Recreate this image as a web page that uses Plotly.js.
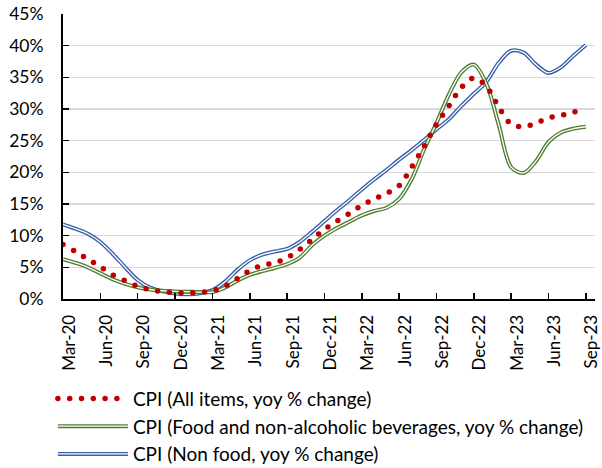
<!DOCTYPE html>
<html>
<head>
<meta charset="utf-8">
<script src="https://cdn.plot.ly/plotly-3.0.1.min.js"></script>
<style>html,body{margin:0;padding:0;background:#fff;}#chart{width:602px;height:468px;}</style>
</head>
<body>
<div id="chart"></div>
<script>
var months = ["Mar-20","Apr-20","May-20","Jun-20","Jul-20","Aug-20","Sep-20","Oct-20","Nov-20","Dec-20",
  "Jan-21","Feb-21","Mar-21","Apr-21","May-21","Jun-21","Jul-21","Aug-21","Sep-21","Oct-21","Nov-21","Dec-21",
  "Jan-22","Feb-22","Mar-22","Apr-22","May-22","Jun-22","Jul-22","Aug-22","Sep-22","Oct-22","Nov-22","Dec-22",
  "Jan-23","Feb-23","Mar-23","Apr-23","May-23","Jun-23","Jul-23","Aug-23","Sep-23"];

var cpiAll = [8.6,7.5,6.3,5.1,3.8,2.9,2.0,1.45,1.15,1.0,0.95,1.05,1.3,2.0,3.2,4.5,5.3,5.7,6.5,7.8,9.4,11.0,
  12.3,13.5,14.8,15.8,16.7,17.9,20.8,24.1,27.6,30.5,33.4,34.9,33.6,30.3,27.6,27.2,27.8,28.6,29.0,29.5,30.1];

var cpiFood = [6.3,5.7,5.0,4.05,3.1,2.4,1.85,1.5,1.3,1.2,1.15,1.1,1.1,1.8,2.9,3.8,4.4,4.9,5.5,6.5,8.5,10.0,
  11.2,12.2,13.2,13.9,14.4,15.8,18.9,23.6,27.8,32.3,35.8,37.0,34.0,27.5,20.8,19.9,21.8,24.8,26.3,26.9,27.2];

var cpiNonFood = [11.8,11.1,10.3,9.0,7.1,5.0,3.0,1.8,1.2,0.85,0.75,0.9,1.4,2.7,4.6,6.1,7.0,7.5,7.9,9.0,10.6,12.3,
  14.0,15.6,17.3,18.9,20.4,22.0,23.5,25.1,26.8,28.4,30.5,32.4,34.3,37.3,39.2,38.9,37.0,35.7,36.6,38.4,40.1];

var seriesNames = ["CPI (All items, yoy % change)",
  "CPI (Food and non-alcoholic beverages, yoy % change)",
  "CPI (Non food, yoy % change)"];

var tickLabels = months.filter(function(m, i){ return i % 3 === 0; });

var RED = "#C00000", GREEN = "#507E32", BLUE = "#3560A8";

function doubleLine(y, name, color, rank, group) {
  return [
    {x: months, y: y, name: name, type: "scatter", mode: "lines", legendgroup: group, legendrank: rank,
     line: {color: color, width: 4.0, shape: "spline", smoothing: 0.9}, hoverinfo: "skip"},
    {x: months, y: y, name: name, type: "scatter", mode: "lines", legendgroup: group, showlegend: false,
     line: {color: "#ffffff", width: 1.3, shape: "spline", smoothing: 0.9}, hoverinfo: "skip"}
  ];
}

var data = []
  .concat(doubleLine(cpiNonFood, seriesNames[2], BLUE, 3, "c"))
  .concat(doubleLine(cpiFood, seriesNames[1], GREEN, 2, "b"))
  .concat([{x: months, y: cpiAll, name: seriesNames[0], type: "scatter", mode: "lines", legendgroup: "a", legendrank: 1,
     line: {color: RED, width: 5.5, dash: "1px,11px", shape: "spline", smoothing: 0.9}, hoverinfo: "skip"}]);

var FONT = "Lato, 'Liberation Sans', sans-serif";

var layout = {
  width: 602, height: 468,
  margin: {l: 63, r: 7, t: 14, b: 169, autoexpand: false},
  paper_bgcolor: "#ffffff", plot_bgcolor: "#ffffff",
  font: {family: FONT, size: 19, color: "#000000"},
  showlegend: true,
  legend: {
    orientation: "v", x: -0.019, xanchor: "left", y: -0.283, yanchor: "top",
    font: {family: FONT, size: 19, color: "#000000"},
    itemwidth: 70, tracegroupgap: 0, bgcolor: "rgba(0,0,0,0)", traceorder: "normal"
  },
  xaxis: {
    type: "category", range: [0, 42.73], automargin: false,
    tickmode: "array", tickvals: tickLabels, ticktext: tickLabels,
    tickangle: -90, ticks: "inside", ticklen: 6, tickwidth: 1.5, tickcolor: "#000",
    showline: true, linecolor: "#000", linewidth: 2, showgrid: false, zeroline: false,
    ticklabelstandoff: 7, ticklabelshift: 6,
    tickfont: {family: FONT, size: 17, color: "#000"}
  },
  yaxis: {
    range: [0, 45], dtick: 5, tick0: 0, ticksuffix: "%", automargin: false,
    ticks: "inside", ticklen: 6, tickwidth: 1.5, tickcolor: "#000",
    showline: true, linecolor: "#000", linewidth: 2,
    showgrid: true, gridcolor: "#D9D9D9", gridwidth: 1.5, zeroline: false,
    ticklabelstandoff: 14,
    tickfont: {family: FONT, size: 17.5, color: "#000"}
  }
};

var gd = document.getElementById("chart");
Plotly.newPlot(gd, data, layout, {staticPlot: true, displayModeBar: false}).then(function () {
  gd.querySelectorAll("path.js-line").forEach(function (p) {
    var s = (p.style.stroke || "").replace(/\s/g, "");
    if (s === "rgb(192,0,0)") {
      p.style.strokeLinecap = "round";
      p.style.strokeDasharray = "0px, 11.8px";
    }
  });
  gd.querySelectorAll(".legend .traces").forEach(function (t) {
    var p = t.querySelector("path.js-line");
    if (!p) return;
    var s = (p.style.stroke || "").replace(/\s/g, "");
    if (s !== "rgb(192,0,0)") {
      var c = p.cloneNode(true);
      c.style.stroke = "#ffffff";
      c.style.strokeWidth = "1.3px";
      p.parentNode.appendChild(c);
    }
  });
});
</script>
</body>
</html>
